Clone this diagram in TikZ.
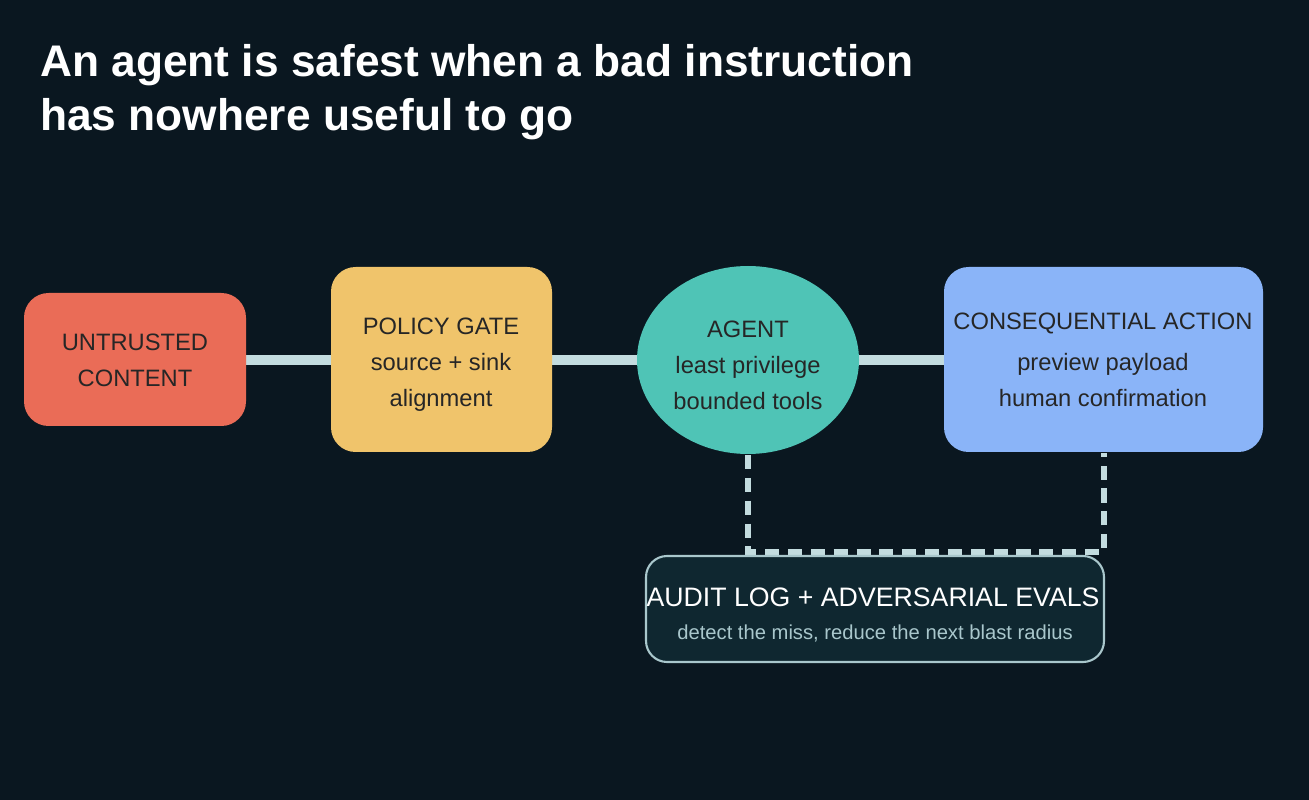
\documentclass[tikz,border=0pt]{standalone}
\usepackage{fontspec}
\setmainfont{Liberation Sans}
\begin{document}
\begin{tikzpicture}[x=0.02cm,y=-0.02cm,
  lbl/.style={align=center,text=black!85,font=\fontsize{13.5}{20.5}\selectfont},
  link/.style={draw=lnk,line width=5.5pt},
  dashlink/.style={draw=lnk,line width=3pt,dash pattern=on 8pt off 5pt}]
\definecolor{bg}{HTML}{0A1720}
\definecolor{lnk}{HTML}{C3DCDF}
\definecolor{cred}{HTML}{EA6C57}
\definecolor{cyel}{HTML}{F0C46B}
\definecolor{ctea}{HTML}{4FC4B6}
\definecolor{cblu}{HTML}{8AB4F8}
\definecolor{cbox}{HTML}{0F2730}
\definecolor{cbrd}{HTML}{A9C7CC}
\fill[bg] (0,0) rectangle (1309,800);
\useasboundingbox (0,0) rectangle (1309,800);
\node[anchor=north west,text=white,align=left,font=\bfseries\fontsize{25.2}{31}\selectfont] (title) at (34,38) {An agent is safest when a bad instruction\\has nowhere useful to go};
\coordinate (l1) at (135,360);
\coordinate (l2) at (1100,360);
\path[link] (l1) -- (l2);
\fill[cred,rounded corners=14pt] (24,293) rectangle (246,426);
\node[lbl] (ut) at (135,360) {UNTRUSTED\\CONTENT};
\fill[cyel,rounded corners=14pt] (331,267) rectangle (552,452);
\node[lbl] (pg) at (441,365) {POLICY GATE\\source + sink\\alignment};
\fill[ctea] (748,360) ellipse [x radius=111,y radius=94];
\node[lbl] (ag) at (748,365) {AGENT\\least privilege\\bounded tools};
\fill[cblu,rounded corners=14pt] (944,267) rectangle (1263,452);
\node[lbl] (ca) at (1103,360) {CONSEQUENTIAL ACTION\\[3pt]preview payload\\human confirmation};
\coordinate (d1) at (748,455);
\coordinate (d2) at (748,552);
\coordinate (d3) at (1104,552);
\coordinate (d4) at (1104,453);
\draw[dashlink] (d1) -- (d2) -- (d3) -- (d4);
\draw[cbrd,fill=cbox,line width=1.2pt,rounded corners=12pt] (646,556) rectangle (1104,662);
\node[text=white,font=\fontsize{15.2}{18}\selectfont] (au) at (873,597) {AUDIT LOG + ADVERSARIAL EVALS};
\node[text=cbrd,font=\fontsize{11.5}{13}\selectfont] (aus) at (875,633) {detect the miss, reduce the next blast radius};
\end{tikzpicture}
\end{document}
